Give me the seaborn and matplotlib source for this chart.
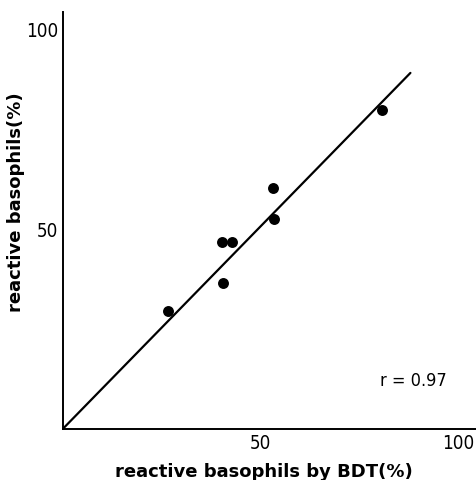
import matplotlib.pyplot as plt
import seaborn as sns

# values
bdt = [26.7, 40.3, 42.9, 40.5, 53.3, 53.5, 80.8]
reactive = [29.6, 46.7, 46.7, 36.4, 60.2, 52.5, 79.8]
fit_x = [0, 88]
fit_y = [0, 89]
ticks = [50, 100]

sns.set_style("white")
plt.rcParams['font.family'] = ['DejaVu Sans']

fig = plt.figure(figsize=(4.76, 4.81), dpi=100)
ax = fig.add_axes([0.1317, 0.106, 0.8683, 0.8676])

sns.lineplot(x=fit_x, y=fit_y, ax=ax, color="black", linewidth=1.6)
sns.scatterplot(x=bdt, y=reactive, ax=ax, color="black", s=62, edgecolor="black", linewidth=0, zorder=3)

ax.set_xlim(0, 104.6)
ax.set_ylim(0, 104.3)
ax.set_xticks(ticks)
ax.set_yticks(ticks)
ax.tick_params(direction="in", length=4, width=1.2, labelsize=13.5, pad=3, colors="black")
for lab in ax.get_xticklabels() + ax.get_yticklabels():
    lab.set_fontstretch("condensed")

for side in ["top", "right"]:
    ax.spines[side].set_visible(False)
for side in ["left", "bottom"]:
    ax.spines[side].set_linewidth(1.4)
    ax.spines[side].set_color("black")

ax.set_xlabel("reactive basophils by BDT(%)", fontsize=13, fontweight="semibold", color="black")
ax.set_ylabel("reactive basophils(%)", fontsize=13, fontweight="semibold", color="black")
ax.xaxis.set_label_coords(0.487, -0.078)
ax.yaxis.set_label_coords(-0.092, 0.546)
ax.text(80.3, 12.2, "r = 0.97", fontsize=13, fontstretch="condensed", va="center", color="black")

fig.savefig("out.png", dpi=100)
